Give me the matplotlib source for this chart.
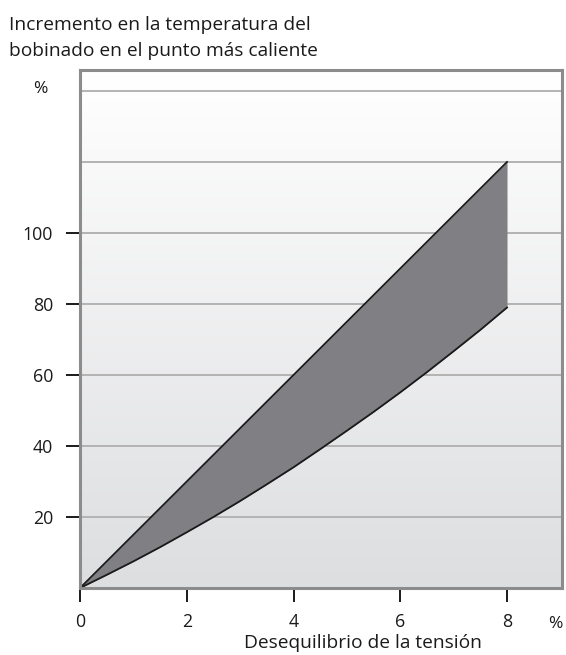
import numpy as np
import matplotlib
matplotlib.use("Agg")
import matplotlib.pyplot as plt
from matplotlib.colors import LinearSegmentedColormap

# Voltage unbalance (%) and rise of hot-spot winding temperature (%)
unbalance = [0, 0.5, 1, 1.5, 2, 2.5, 3, 3.5, 4, 4.5, 5, 5.5, 6, 6.5, 7, 7.5, 8]
rise_upper = [0, 7.5, 15, 22.5, 30, 37.5, 45, 52.5, 60, 67.5, 75, 82.5, 90,
              97.5, 105, 112.5, 120]
rise_lower = [0, 3.7, 7.5, 11.5, 15.7, 20.0, 24.5, 29.2, 34.0, 39.1, 44.3,
              49.6, 55.1, 60.8, 66.7, 72.7, 79]

y_ticks = [20, 40, 60, 80, 100]
grid_levels = [20, 40, 60, 80, 100, 120, 140]
x_ticks = [0, 2, 4, 6, 8]

title_lines = ["Incremento en la temperatura del",
               "bobinado en el punto más caliente"]
x_label = "Desequilibrio de la tensión"

plt.rcParams['font.family'] = ['Open Sans', 'DejaVu Sans']

W, H = 566, 655
fig = plt.figure(figsize=(W / 100, H / 100), dpi=100)
ax = fig.add_axes([80 / W, (H - 588) / H, 482 / W, 518 / H])

x_max = 9.03
y_max = 145.9
ax.set_xlim(0, x_max)
ax.set_ylim(0, y_max)

# vertical gradient background
grad = np.linspace(0, 1, 256).reshape(-1, 1)
cmap = LinearSegmentedColormap.from_list("bg", ["#dddee0", "#ffffff"])
ax.imshow(grad, extent=[0, x_max, 0, y_max], origin="lower", aspect="auto",
          cmap=cmap, zorder=0, interpolation="bicubic")

for g in grid_levels:
    ax.axhline(g, color="#b3b3b3", lw=1.4, zorder=1)

ax.fill_between(unbalance, rise_lower, rise_upper, color="#808084",
                lw=0, zorder=2)
ax.plot(unbalance, rise_upper, color="#1a1a1a", lw=1.3, zorder=3)
ax.plot(unbalance, rise_lower, color="#1a1a1a", lw=1.3, zorder=3)

for s in ax.spines.values():
    s.set_color("#8c8c8c")
    s.set_linewidth(2.2)
    s.set_zorder(4)

ax.set_xticks(x_ticks)
ax.set_xticklabels([str(v) for v in x_ticks])
ax.set_yticks(y_ticks)
ax.set_yticklabels([str(v) for v in y_ticks])
ax.tick_params(axis="both", direction="out", length=10, width=1.4,
               color="#1a1a1a", labelsize=12.8, labelcolor="#1a1a1a")
ax.tick_params(axis="x", pad=8)
ax.tick_params(axis="y", pad=9.5)

# unit markers
fig.text(40 / W, 1 - 89 / H, "%", ha="center", va="center",
         fontsize=12.5, color="#1a1a1a")
fig.text(555 / W, 1 - 624 / H, "%", ha="center", va="center",
         fontsize=12.5, color="#1a1a1a")

fig.text(363 / W, 1 - 648 / H, x_label, ha="center", va="baseline",
         fontsize=13.8, color="#1a1a1a")

fig.text(9 / W, 1 - 30 / H, title_lines[0], ha="left", va="baseline",
         fontsize=13.8, color="#1a1a1a")
fig.text(9 / W, 1 - 56 / H, title_lines[1], ha="left", va="baseline",
         fontsize=13.8, color="#1a1a1a")

fig.savefig("out.png", dpi=100)
